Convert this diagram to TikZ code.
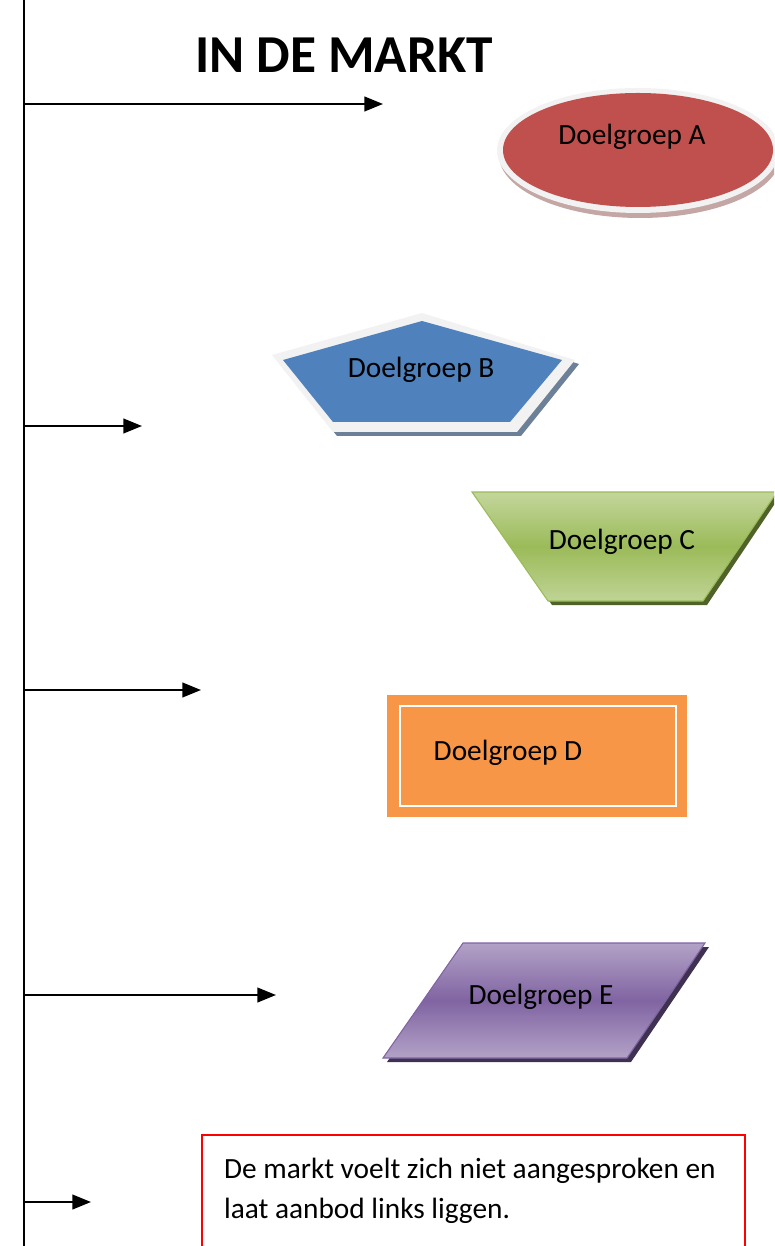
\documentclass[tikz,border=0pt]{standalone}
\usepackage{fontspec}
\setmainfont{Carlito}
\usetikzlibrary{arrows.meta}

\definecolor{doelA}{HTML}{C0504D}
\definecolor{doelB}{HTML}{4F81BD}
\definecolor{doelClicht}{HTML}{C3D69B}
\definecolor{doelC}{HTML}{9BBB59}
\definecolor{doelCdonker}{HTML}{4F6228}
\definecolor{doelD}{HTML}{F79646}
\definecolor{doelElicht}{HTML}{B3A2C7}
\definecolor{doelE}{HTML}{8064A2}
\definecolor{doelEdonker}{HTML}{3F3151}
\definecolor{rand}{HTML}{F2F2F2}

\begin{document}
\begin{tikzpicture}[x=0.375pt, y=-0.375pt, line width=.8pt,
    lbl/.style={font=\fontsize{11}{13}\selectfont, inner sep=0pt},
    pijl/.style={-{Triangle[length=7pt, width=5.5pt]}}]
    \clip (0,0) rectangle (774,1246);

    \node[font=\bfseries\fontsize{20}{24}\selectfont] (titel) at (344,55.5) {IN DE MARKT};

    \coordinate (boven) at (24,-10);
    \coordinate (onder) at (24,1260);
    \draw (boven) -- (onder);

    \foreach \y/\x [count=\i] in {104/383, 426/142, 690/201, 995/276, 1202/91}{
        \coordinate (s\i) at (24,\y);
        \coordinate (e\i) at (\x,\y);
        \draw[pijl] (s\i) -- (e\i);
    }

    % doelgroep A
    \fill[doelA!45!gray!60] (640,155) ellipse [x radius=141, y radius=63];
    \fill[rand] (638,150.5) ellipse [x radius=141, y radius=62.5];
    \fill[doelA] (638,150) ellipse [x radius=135, y radius=57];
    \node[lbl] (A) at (632,137) {Doelgroep A};

    % doelgroep B
    \fill[doelB!40!gray] (426,317) -- (579,364) -- (521,436) -- (337,436) -- (276,359) -- cycle;
    \fill[rand] (422,313) -- (575,360) -- (517,432) -- (333,432) -- (272,355) -- cycle;
    \fill[doelB] (422,321) -- (562,360) -- (510,422) -- (333,422) -- (283,360) -- cycle;
    \node[lbl] (B) at (421,370) {Doelgroep B};

    % doelgroep C
    \fill[doelCdonker] (476,496) -- (780,496) -- (707,605) -- (552,605) -- cycle;
    \shade[top color=doelClicht, bottom color=doelClicht!90!doelC, middle color=doelC, draw=doelC, line width=.4pt]
        (472,492) -- (777,492) -- (703,601) -- (548,601) -- cycle;
    \node[lbl] (C) at (622,542) {Doelgroep C};

    % doelgroep D
    \fill[doelD] (387,695) rectangle (687,817);
    \draw[white, line width=1.1pt] (400,706) rectangle (676,806);
    \node[lbl] (D) at (508,753) {Doelgroep D};

    % doelgroep E
    \fill[doelEdonker] (467,947) -- (709,947) -- (631,1062) -- (387,1062) -- cycle;
    \shade[top color=doelElicht, bottom color=doelElicht, middle color=doelE, draw=doelE, line width=.4pt]
        (463,943) -- (705,943) -- (627,1058) -- (383,1058) -- cycle;
    \node[lbl] (E) at (541,997) {Doelgroep E};

    \draw[red, line width=.6pt] (202,1135) rectangle (745,1270);
    \node[lbl, anchor=north west, align=left, font=\fontsize{11}{15}\selectfont] (markt) at (223,1157)
        {De markt voelt zich niet aangesproken en\\laat aanbod links liggen.};
\end{tikzpicture}
\end{document}
